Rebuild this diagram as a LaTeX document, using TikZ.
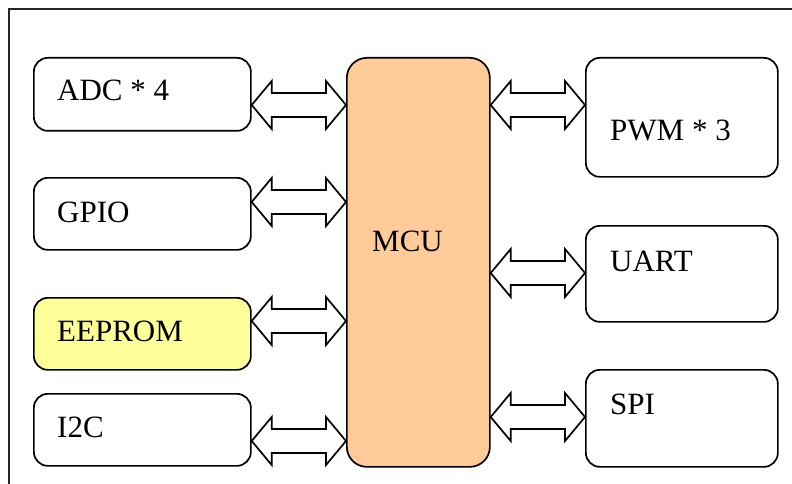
\documentclass[tikz,border=0pt]{standalone}
\usepackage{fontspec}
\setmainfont{Liberation Serif}
\usetikzlibrary{calc}
\definecolor{mcufill}{HTML}{FFCC99}
\definecolor{romfill}{HTML}{FFFF99}
\tikzset{
  box/.style={draw=black, line width=1.7pt, rounded corners=14pt, fill=white,
    inner sep=0pt, anchor=north west},
  lbl/.style={anchor=base west, inner sep=0pt, font=\fontsize{31}{36}\selectfont},
  arrowbody/.style={draw=black, line width=1.7pt, fill=white, line join=miter},
}
% block double arrow between the points #1 and #2, at height #3
\newcommand{\dblarrow}[3]{%
  \path[arrowbody] let \p1=(#1), \p2=(#2), \p3=(0,#3) in
    (\x1,\y3) -- (\x1+20,\y3+24) -- (\x1+20,\y3+12) -- (\x2-20,\y3+12)
    -- (\x2-20,\y3+24) -- (\x2,\y3) -- (\x2-20,\y3-24) -- (\x2-20,\y3-12)
    -- (\x1+20,\y3-12) -- (\x1+20,\y3-24) -- cycle;}
\begin{document}
\begin{tikzpicture}[x=1pt,y=-1pt]
\useasboundingbox (0,0) rectangle (792,484);
\clip (0,0) rectangle (792,484);
\fill[white] (0,0) rectangle (792,484);
% outer frame
\draw[line width=1.6pt, black!85] (9,9) rectangle (820,520);

% left column
\node[box, minimum width=217pt, minimum height=73pt] (adc) at (33,57) {};
\node[box, minimum width=217pt, minimum height=72pt] (gpio) at (33,177) {};
\node[box, fill=romfill, minimum width=217pt, minimum height=72pt] (eeprom) at (33,297) {};
\node[box, minimum width=217pt, minimum height=72pt] (i2c) at (33,393) {};

% processor
\node[box, fill=mcufill, rounded corners=20pt, minimum width=143pt, minimum height=409pt] (mcu) at (346,57) {};

% right column
\node[box, minimum width=192pt, minimum height=119pt] (pwm) at (585,57) {};
\node[box, minimum width=192pt, minimum height=96pt] (uart) at (585,225) {};
\node[box, minimum width=192pt, minimum height=97pt] (spi) at (585,369) {};

% labels
\node[lbl] (adct) at (57,101) {ADC * 4};
\node[lbl] (gpiot) at (57,222) {GPIO};
\node[lbl] (eepromt) at (57,341) {EEPROM};
\node[lbl] (i2ct) at (57,437) {I2C};
\node[lbl] (mcut) at (372,251) {MCU};
\node[lbl] (pwmt) at (610,140) {PWM * 3};
\node[lbl] (uartt) at (610,271) {UART};
\node[lbl] (spit) at (610,414) {SPI};

% bus arrows
\dblarrow{adc.east}{mcu.west}{105}
\dblarrow{gpio.east}{mcu.west}{202}
\dblarrow{eeprom.east}{mcu.west}{321}
\dblarrow{i2c.east}{mcu.west}{441}
\dblarrow{mcu.east}{pwm.west}{105}
\dblarrow{mcu.east}{uart.west}{273}
\dblarrow{mcu.east}{spi.west}{417}
\end{tikzpicture}
\end{document}
